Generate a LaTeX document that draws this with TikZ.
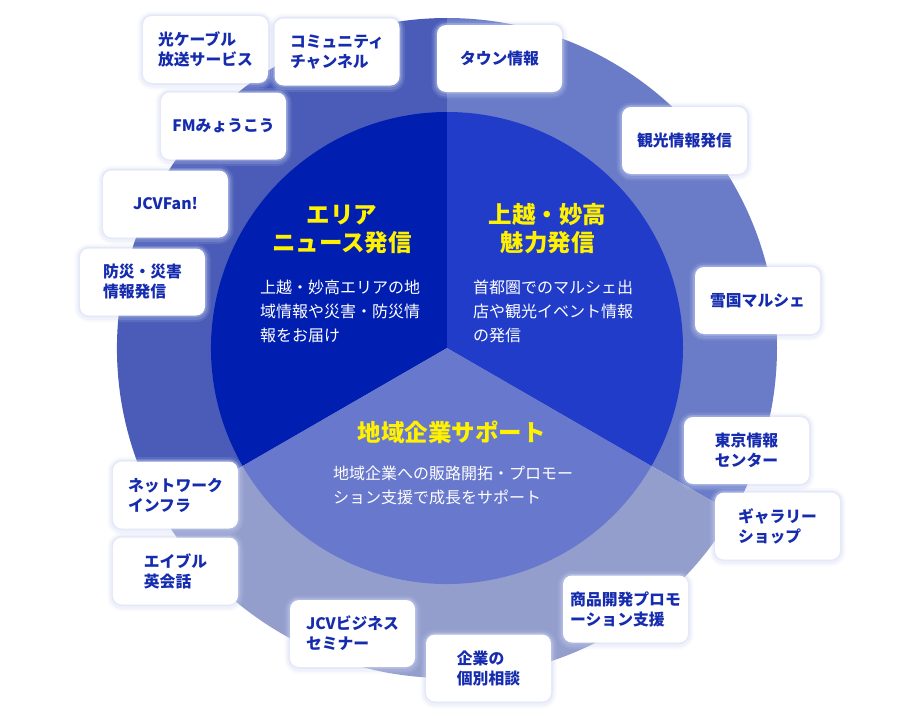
\documentclass[tikz,border=0pt]{standalone}
\usepackage{fontspec}
\setmainfont{Noto Sans CJK JP}
\definecolor{outA}{HTML}{4A5CB8}
\definecolor{outB}{HTML}{6A7CC8}
\definecolor{outC}{HTML}{949ECD}
\definecolor{inA}{HTML}{001EB0}
\definecolor{inB}{HTML}{203CC8}
\definecolor{inC}{HTML}{6878CC}
\definecolor{ttl}{HTML}{FFF100}
\definecolor{boxtext}{HTML}{162CAE}
\definecolor{glow}{HTML}{CDD4F2}
\tikzset{
  x=1pt, y=-1pt,
  itembox/.style={fill=white, rounded corners=9pt, minimum width=125pt, minimum height=67pt,
    inner sep=0pt, align=left, text=boxtext, font=\bfseries\fontsize{15.8}{20}\selectfont,
    preaction={draw=glow, line width=11pt, draw opacity=0.12, transform canvas={yshift=-1pt}},
    preaction={draw=glow, line width=7pt, draw opacity=0.18, transform canvas={yshift=-1pt}},
    preaction={draw=glow, line width=3.5pt, draw opacity=0.3}},
  titletext/.style={text=ttl, align=center, font=\bfseries\fontsize{23.5}{28}\selectfont},
  bodytext/.style={text=white, align=left, anchor=west, inner sep=0pt, font=\fontsize{16}{24}\selectfont}
}
\begin{document}
\begin{tikzpicture}
\useasboundingbox (0,0) rectangle (900,720);
\fill[white] (0,0) rectangle (900,720);
\coordinate (c) at (447,348);
% outer ring
\fill[outA] (c) -- ++(150:330) arc[start angle=150, end angle=270, radius=330] -- cycle;
\fill[outB] (c) -- ++(270:330) arc[start angle=270, end angle=390, radius=330] -- cycle;
\fill[outC] (c) -- ++(30:330) arc[start angle=30, end angle=150, radius=330] -- cycle;
% inner
\fill[inA] (c) -- ++(150:236) arc[start angle=150, end angle=270, radius=236] -- cycle;
\fill[inB] (c) -- ++(270:236) arc[start angle=270, end angle=390, radius=236] -- cycle;
\fill[inC] (c) -- ++(30:236) arc[start angle=30, end angle=150, radius=236] -- cycle;
% sector texts
\node[titletext] (t1) at (342,229) {エリア\\ニュース発信};
\node[titletext] (t2) at (547.5,229) {上越・妙高\\魅力発信};
\node[titletext] (t3) at (451.5,432) {地域企業サポート};
\node[bodytext] (b1) at (260,311) {上越・妙高エリアの地\\域情報や災害・防災情\\報をお届け};
\node[bodytext] (b2) at (473,311) {首都圏でのマルシェ出\\店や観光イベント情報\\の発信};
\node[bodytext] (b3) at (333,485) {地域企業への販路開拓・プロモー\\ション支援で成長をサポート};
% boxes
\node[itembox] (n1) at (205.5,49.5) {光ケーブル\\放送サービス};
\node[itembox] (n2) at (337,52) {コミュニティ\\チャンネル};
\node[itembox] (n3) at (499.5,58.5) {タウン情報};
\node[itembox] (n4) at (223.5,126) {FMみょうこう};
\node[itembox] (n5) at (684.5,140.5) {観光情報発信};
\node[itembox] (n6) at (165.5,204) {JCVFan!};
\node[itembox] (n7) at (142.5,282) {防災・災害\\情報発信};
\node[itembox] (n8) at (757.5,300.5) {雪国マルシェ};
\node[itembox] (n9) at (746.5,450.5) {東京情報\\センター};
\node[itembox] (n10) at (777.5,526) {ギャラリー\\ショップ};
\node[itembox] (n11) at (175.5,495) {ネットワーク\\インフラ};
\node[itembox] (n12) at (175.5,571) {エイブル\\英会話};
\node[itembox] (n13) at (625.5,609) {商品開発プロモ\\ーション支援};
\node[itembox] (n14) at (352.5,633.5) {JCVビジネス\\セミナー};
\node[itembox] (n15) at (488.5,668) {企業の\\個別相談};
\end{tikzpicture}
\end{document}
